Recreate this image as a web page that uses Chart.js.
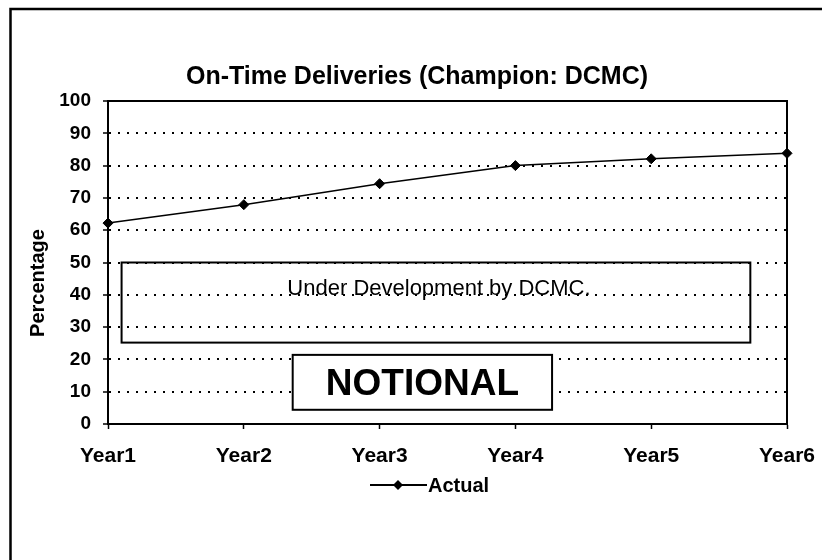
<!DOCTYPE html>
<html lang="en">
<head>
    <meta charset="UTF-8">
    <title>On-Time Deliveries</title>
    <script src="https://cdn.jsdelivr.net/npm/chart.js"></script>
    <style>
        body { margin: 0; background: #fff; overflow: hidden; }
        #wrap { width: 822px; height: 560px; }
    </style>
</head>
<body>
    <div id="wrap"><canvas id="deliveriesChart" width="822" height="560"></canvas></div>

    <script>
        // chart data
        const categories = ['Year1', 'Year2', 'Year3', 'Year4', 'Year5', 'Year6'];
        const actualValues = [62.2, 67.9, 74.4, 80.0, 82.1, 83.8];
        const yTickValues = [0, 10, 20, 30, 40, 50, 60, 70, 80, 90, 100];
        const seriesName = 'Actual';
        const chartTitle = 'On-Time Deliveries (Champion: DCMC)';
        const yAxisTitle = 'Percentage';
        const noteText = 'Under Development by DCMC.';
        const stampText = 'NOTIONAL';

        const FONT = '"Liberation Sans", Arial, sans-serif';

        // title, axis title, legend, note boxes and the page border
        const decorations = {
            id: 'decorations',
            beforeDraw(chart) {
                const ctx = chart.ctx;
                ctx.save();
                ctx.fillStyle = '#fff';
                ctx.fillRect(0, 0, chart.width, chart.height);
                ctx.restore();
            },
            afterDraw(chart) {
                const ctx = chart.ctx;
                const area = chart.chartArea;
                const x = chart.scales.x;
                const y = chart.scales.y;
                ctx.save();

                // page border (top and left only)
                ctx.strokeStyle = '#000';
                ctx.lineWidth = 2.5;
                ctx.beginPath();
                ctx.moveTo(822, 9);
                ctx.lineTo(10.5, 9);
                ctx.lineTo(10.5, 560);
                ctx.stroke();

                // plot frame top and right
                ctx.lineWidth = 2;
                ctx.beginPath();
                ctx.moveTo(area.left, area.top);
                ctx.lineTo(area.right, area.top);
                ctx.lineTo(area.right, area.bottom);
                ctx.stroke();

                // title
                ctx.fillStyle = '#000';
                ctx.textAlign = 'center';
                ctx.textBaseline = 'alphabetic';
                ctx.font = 'bold 25px ' + FONT;
                ctx.fillText(chartTitle, 417, 84);

                // y axis title
                ctx.save();
                ctx.translate(44, 283);
                ctx.rotate(-Math.PI / 2);
                ctx.font = 'bold 20px ' + FONT;
                ctx.fillText(yAxisTitle, 0, 0);
                ctx.restore();

                // legend
                ctx.lineWidth = 2;
                ctx.beginPath();
                ctx.moveTo(370, 485);
                ctx.lineTo(427, 485);
                ctx.stroke();
                ctx.beginPath();
                ctx.moveTo(398, 480);
                ctx.lineTo(403, 485);
                ctx.lineTo(398, 490);
                ctx.lineTo(393, 485);
                ctx.closePath();
                ctx.fill();
                ctx.textAlign = 'left';
                ctx.font = 'bold 20px ' + FONT;
                ctx.fillText(seriesName, 428, 492);

                // "under development" note box (transparent)
                const n0 = x.getPixelForValue(0.1), n1 = x.getPixelForValue(4.73);
                const nt = y.getPixelForValue(50), nb = y.getPixelForValue(25.2);
                ctx.lineWidth = 2;
                ctx.strokeRect(n0, nt, n1 - n0, nb - nt);
                ctx.textAlign = 'center';
                ctx.font = '22px ' + FONT;
                ctx.fillText(noteText, (n0 + n1) / 2 + 3, 295);

                // NOTIONAL stamp (white fill)
                const s0 = x.getPixelForValue(1.36), s1 = x.getPixelForValue(3.27);
                const st = y.getPixelForValue(21.4), sb = y.getPixelForValue(4.4);
                ctx.fillStyle = '#fff';
                ctx.fillRect(s0, st, s1 - s0, sb - st);
                ctx.strokeRect(s0, st, s1 - s0, sb - st);
                ctx.fillStyle = '#000';
                ctx.font = 'bold 37px ' + FONT;
                ctx.fillText(stampText, (s0 + s1) / 2, 395);

                ctx.restore();
            }
        };

        const ctx = document.getElementById('deliveriesChart').getContext('2d');
        new Chart(ctx, {
            type: 'line',
            data: {
                labels: categories,
                datasets: [{
                    label: seriesName,
                    data: actualValues,
                    borderColor: '#000',
                    backgroundColor: '#000',
                    borderWidth: 1.5,
                    pointStyle: 'rectRot',
                    pointRadius: 5,
                    pointBorderWidth: 1,
                    tension: 0,
                    clip: false
                }]
            },
            options: {
                responsive: false,
                animation: false,
                layout: { padding: { left: 0, top: 101, right: 35, bottom: 76 } },
                plugins: {
                    legend: { display: false },
                    title: { display: false },
                    tooltip: { enabled: false }
                },
                scales: {
                    x: {
                        offset: false,
                        grid: { drawOnChartArea: false, tickLength: 5, tickColor: '#000', tickWidth: 1.5 },
                        border: { color: '#000', width: 2 },
                        ticks: {
                            color: '#000',
                            font: { family: FONT, weight: 'bold', size: 21 },
                            padding: 15,
                            maxRotation: 0,
                            autoSkip: false
                        },
                        afterFit(scale) {
                            scale.height = 60;
                            scale.paddingLeft = 0;
                            scale.paddingRight = 0;
                        }
                    },
                    y: {
                        min: 0,
                        max: 100,
                        afterBuildTicks(scale) {
                            scale.ticks = yTickValues.map(v => ({ value: v }));
                        },
                        grid: {
                            color: c => (c.tick && (c.tick.value === 0 || c.tick.value === 100)) ? 'rgba(0,0,0,0)' : '#000',
                            lineWidth: 2,
                            tickLength: 5,
                            tickColor: '#000',
                            tickWidth: 1.5
                        },
                        border: { color: '#000', width: 2, dash: [2, 7] },
                        ticks: {
                            color: '#000',
                            font: { family: FONT, weight: 'bold', size: 19 },
                            padding: 12
                        },
                        afterFit(scale) {
                            scale.width = 108;
                            scale.paddingTop = 0;
                            scale.paddingBottom = 0;
                        }
                    }
                }
            },
            plugins: [decorations]
        });
    </script>
</body>
</html>
